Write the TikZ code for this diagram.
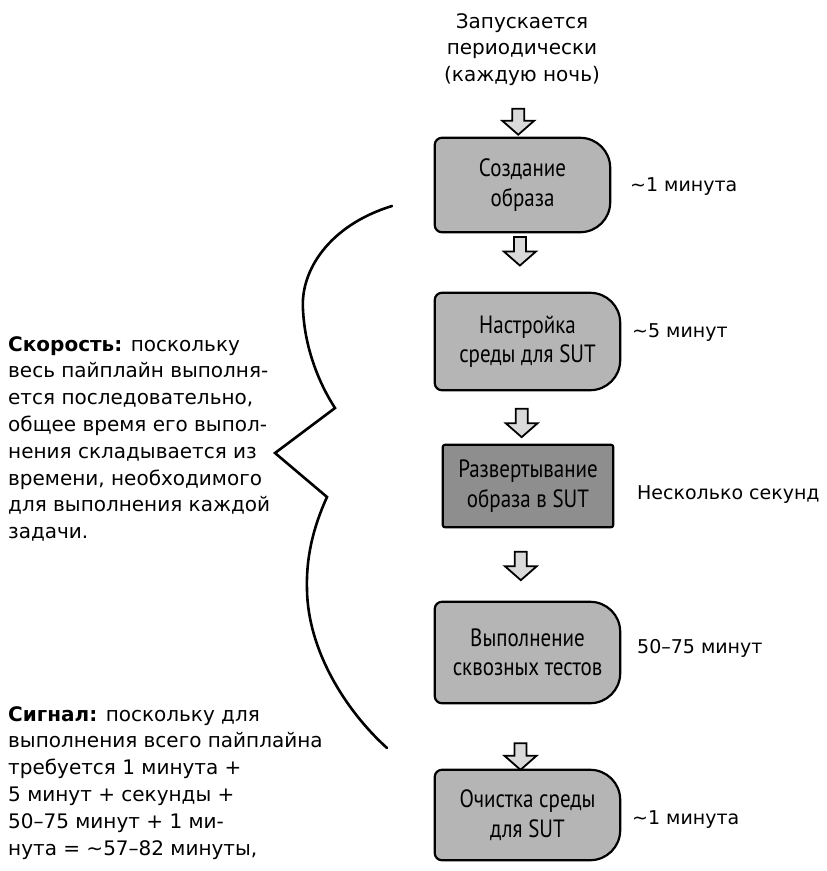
\documentclass[tikz,border=0pt]{standalone}
\usepackage{fontspec}
\setmainfont{DejaVu Sans}
\newfontfamily\stagefont[FakeStretch=0.84]{PT Sans}
\usetikzlibrary{calc,backgrounds}

\definecolor{stagegray}{HTML}{B5B5B5}
\definecolor{deploygray}{HTML}{8E8E8E}
\definecolor{arrowgray}{HTML}{DADADA}

\tikzset{
  hand/.style={font=\fontsize{20}{26.8}\selectfont, inner sep=0pt, align=left},
  note/.style={font=\fontsize{19}{24}\selectfont, inner sep=0pt, anchor=west},
  stage/.style={font=\stagefont\fontsize{25}{29.5}\selectfont, inner sep=0pt, align=center},
  outline/.style={draw=black, line width=2.2pt, line join=round},
  blockarrow/.style={draw=black, fill=arrowgray, line width=1.8pt, line join=miter,
    to path={let \p1=(\tikztostart), \p2=(\tikztotarget) in
      (\x1-6pt,\y1) -- (\x1+6pt,\y1) -- (\x1+6pt,\y2+14pt) -- (\x1+16pt,\y2+14pt)
      -- (\x1,\y2) -- (\x1-16pt,\y2+14pt) -- (\x1-6pt,\y2+14pt) -- cycle}},
  brace/.style={draw=black, line width=2.6pt, line join=miter, line cap=round}
}

% rounded "D" stage outline: gentle left corners, wide right corners
\newcommand\stageoutline[2]{%
  \draw[outline, fill=#2, rounded corners=7pt] (#1.south west) -- (#1.north west)
    [rounded corners=30pt] -- (#1.north east) -- (#1.south east)
    [rounded corners=7pt] -- cycle;}

\begin{document}
\begin{tikzpicture}[x=1pt, y=-1pt]
\useasboundingbox (0,0) rectangle (827,871);

% trigger text
\node[hand, align=center, anchor=south] (trigger) at (522,86)
  {Запускается\\периодически\\(каждую ночь)};

% pipeline stages
\node[stage, minimum width=175pt, minimum height=94pt]  (build)   at (522.5,185)
  {Создание\\образа};
\node[stage, minimum width=185pt, minimum height=97pt]  (setup)   at (527.5,341.5)
  {Настройка\\среды для SUT};
\node[stage, minimum width=170pt, minimum height=82pt]  (deploy)  at (528,486)
  {Развертывание\\образа в SUT};
\node[stage, minimum width=185pt, minimum height=101pt] (e2e)     at (527.5,652.5)
  {Выполнение\\сквозных тестов};
\node[stage, minimum width=185pt, minimum height=90pt]  (cleanup) at (527.5,815)
  {Очистка среды\\для SUT};

\begin{scope}[on background layer]
  \stageoutline{build}{stagegray}
  \stageoutline{setup}{stagegray}
  \draw[outline, fill=deploygray, rounded corners=2pt]
    (deploy.south west) rectangle (deploy.north east);
  \stageoutline{e2e}{stagegray}
  \stageoutline{cleanup}{stagegray}
\end{scope}

% flow arrows
\draw[blockarrow] ($(trigger.south)!0.44!(build.north)+(-4,0)$)
               to ($(trigger.south)!0.94!(build.north)+(-4,0)$);
\draw[blockarrow] ($(build.south)!0.08!(setup.north)+(-3,0)$)
               to ($(build.south)!0.55!(setup.north)+(-3,0)$);
\draw[blockarrow] ($(setup.south)!0.34!(deploy.north)+(-6,0)$)
               to ($(setup.south)!0.86!(deploy.north)+(-6,0)$);
\draw[blockarrow] ($(deploy.south)!0.33!(e2e.north)+(-7,0)$)
               to ($(deploy.south)!0.71!(e2e.north)+(-7,0)$);
\draw[blockarrow] ($(e2e.south)!0.60!(cleanup.north)+(-7,0)$)
               to ($(e2e.south)!1.0!(cleanup.north)+(-7,0)$);

% durations
\node[note] (tbuild)   at (630,187) {\textasciitilde1 минута};
\node[note] (tsetup)   at (632,333) {\textasciitilde5 минут};
\node[note] (tdeploy)  at (637,495) {Несколько секунд};
\node[note] (te2e)     at (637,648) {50–75 минут};
\node[note] (tcleanup) at (632,820) {\textasciitilde1 минута};

% explanations on the left
\node[hand, anchor=north west] (speed) at (8,336)
  {\textbf{Скорость:} поскольку\\
   весь пайплайн выполня-\\
   ется последовательно,\\
   общее время его выпол-\\
   нения складывается из\\
   времени, необходимого\\
   для выполнения каждой\\
   задачи.};
\node[hand, anchor=north west] (signal) at (8,706)
  {\textbf{Сигнал:} поскольку для\\
   выполнения всего пайплайна\\
   требуется 1 минута +\\
   5 минут + секунды +\\
   50–75 минут + 1 ми-\\
   нута = \textasciitilde57–82 минуты,};

% brace grouping the stages
\coordinate (bracetop) at (392,206);
\coordinate (bracetip) at (275,453);
\coordinate (bracebot) at (387,748);
\draw[brace] (bracetop) .. controls (330,225) and (300,270) .. (303,310)
  .. controls (305,350) and (320,385) .. (335,408) -- (bracetip) -- (327,497)
  .. controls (312,530) and (306,560) .. (307,590)
  .. controls (308,650) and (345,710) .. (bracebot);
\end{tikzpicture}
\end{document}
